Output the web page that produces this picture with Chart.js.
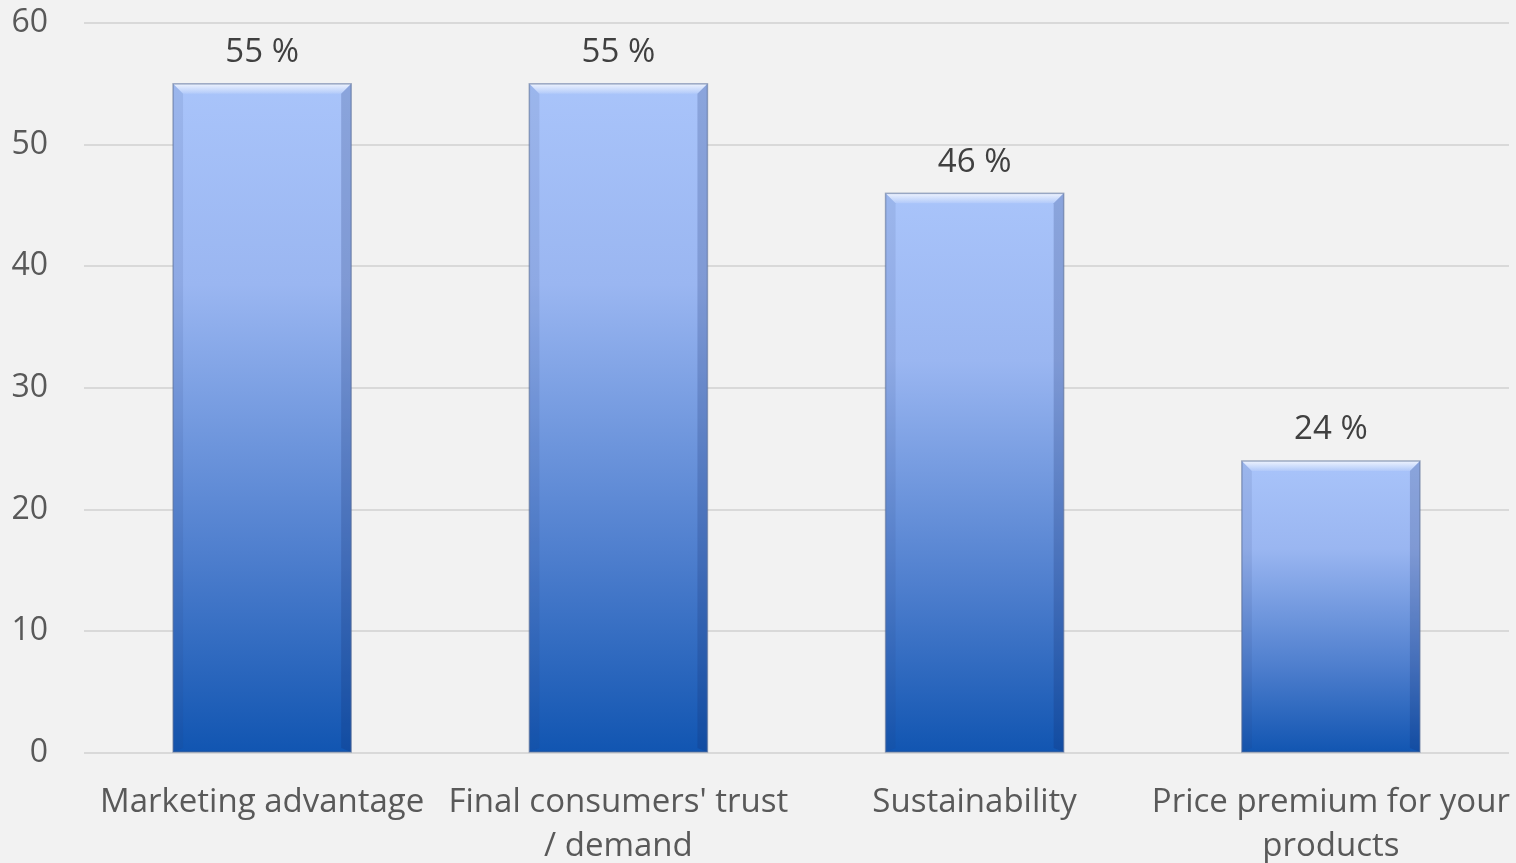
<!DOCTYPE html>
<html>
<head>
<meta charset="utf-8">
<script src="https://cdn.jsdelivr.net/npm/chart.js@4"></script>
<style>
  html, body { margin: 0; padding: 0; background: #f2f2f2; }
  #wrap { width: 1516px; height: 863px; }
</style>
</head>
<body>
<div id="wrap"><canvas id="c" width="1516" height="863"></canvas></div>
<script>
// ── Data ────────────────────────────────────────────────────────────────
const categories = [
  ["Marketing advantage"],
  ["Final consumers' trust", "/ demand"],
  ["Sustainability"],
  ["Price premium for your", "products"],
];
const shares = [55, 55, 46, 24];
const yTicks = [0, 10, 20, 30, 40, 50, 60];

const FONT = "'Open Sans', 'DejaVu Sans', sans-serif";
const TEXT = "#595959";

// Vertical gradient per bar, light at the top, deep blue at the base.
function barFill(context) {
  const chart = context.chart;
  const y = chart.scales && chart.scales.y;
  if (!chart.chartArea || !y || context.raw == null) return "#5b86d6";
  const top = y.getPixelForValue(context.raw);
  const bottom = y.getPixelForValue(0);
  if (!isFinite(top) || !isFinite(bottom)) return "#5b86d6";
  const g = chart.ctx.createLinearGradient(0, top, 0, bottom);
  g.addColorStop(0, "#a9c4fa");
  g.addColorStop(0.3, "#9ab6f1");
  g.addColorStop(0.7, "#4f7fce");
  g.addColorStop(1, "#1155b1");
  return g;
}

// Bevel edges and value labels drawn on top of the bars.
const bevelAndLabels = {
  id: "bevelAndLabels",
  afterDatasetsDraw(chart) {
    const ctx = chart.ctx;
    const meta = chart.getDatasetMeta(0);
    meta.data.forEach((bar, i) => {
      const l = bar.x - bar.width / 2, r = bar.x + bar.width / 2;
      const t = bar.y, b = bar.base;
      const bv = 10;
      ctx.save();
      // top bevel
      let g = ctx.createLinearGradient(0, t, 0, t + bv);
      g.addColorStop(0, "rgba(255,255,255,0.8)");
      g.addColorStop(1, "rgba(255,255,255,0.1)");
      ctx.fillStyle = g;
      ctx.beginPath();
      ctx.moveTo(l, t); ctx.lineTo(r, t); ctx.lineTo(r - bv, t + bv); ctx.lineTo(l + bv, t + bv);
      ctx.closePath(); ctx.fill();
      // left bevel
      ctx.fillStyle = "rgba(40,60,120,0.10)";
      ctx.beginPath();
      ctx.moveTo(l, t); ctx.lineTo(l + bv, t + bv); ctx.lineTo(l + bv, b - 4); ctx.lineTo(l, b);
      ctx.closePath(); ctx.fill();
      // right bevel
      ctx.fillStyle = "rgba(20,40,100,0.20)";
      ctx.beginPath();
      ctx.moveTo(r, t); ctx.lineTo(r - bv, t + bv); ctx.lineTo(r - bv, b - 4); ctx.lineTo(r, b);
      ctx.closePath(); ctx.fill();
      // outline
      ctx.strokeStyle = "rgba(90,110,150,0.55)";
      ctx.lineWidth = 1.5;
      ctx.strokeRect(l, t, r - l, b - t);
      // value label
      ctx.fillStyle = "#404040";
      ctx.font = "33px " + FONT;
      ctx.textAlign = "center";
      ctx.textBaseline = "middle";
      ctx.fillText(shares[i] + " %", bar.x, t - 31);
      ctx.restore();
    });
  },
};

new Chart(document.getElementById("c"), {
  type: "bar",
  data: {
    labels: categories,
    datasets: [{
      data: shares,
      backgroundColor: barFill,
      borderWidth: 0,
      barPercentage: 0.5,
      categoryPercentage: 1.0,
    }],
  },
  options: {
    responsive: false,
    animation: false,
    layout: { padding: { top: 0, right: 7, left: 0, bottom: 0 } },
    plugins: { legend: { display: false }, tooltip: { enabled: false } },
    scales: {
      x: {
        afterFit(axis) {
          axis.height = 110;
          axis.paddingLeft = 0;
          axis.paddingRight = 0;
        },
        grid: { display: false },
        border: { display: false },
        ticks: {
          color: TEXT,
          font: { family: FONT, size: 33, lineHeight: 1.33 },
          padding: 20,
          maxRotation: 0,
          autoSkip: false,
        },
      },
      y: {
        min: 0,
        max: 60,
        afterBuildTicks(axis) { axis.ticks = yTicks.map((v) => ({ value: v })); },
        afterFit(axis) {
          axis.width = 84;
          axis.paddingTop = 23;
          axis.paddingBottom = 0;
        },
        grid: { color: "#d9d9d9", lineWidth: 2, drawTicks: false },
        border: { display: false },
        ticks: {
          color: TEXT,
          font: { family: FONT, size: 32 },
          padding: 36,
        },
      },
    },
  },
  plugins: [bevelAndLabels],
});
</script>
</body>
</html>
